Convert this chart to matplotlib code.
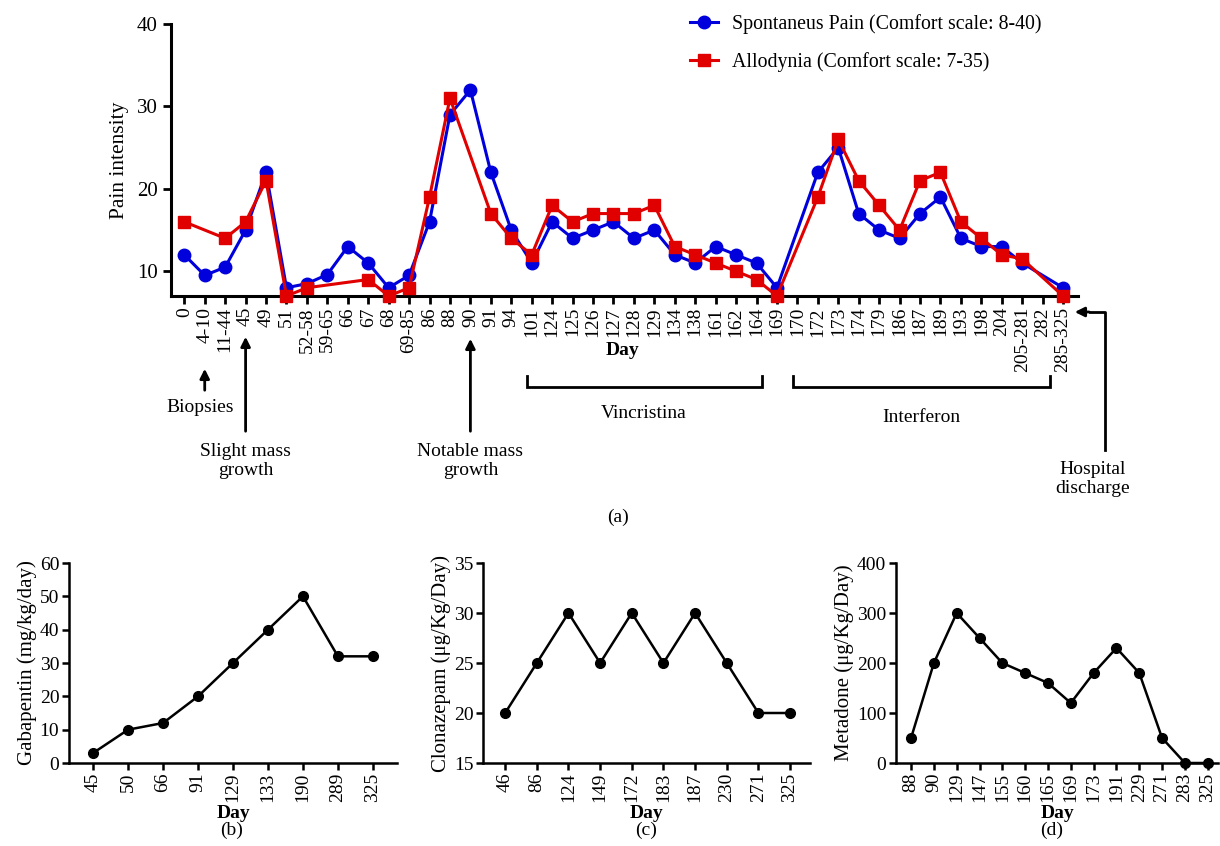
import matplotlib.pyplot as plt
import matplotlib.transforms as mtransforms
import numpy as np

plt.rcParams['font.family'] = ['Liberation Serif', 'DejaVu Serif']

W, H = 1220, 846
nan = np.nan

# ---- panel (a) data ----
days = ['0', '4-10', '11-44', '45', '49', '51', '52-58', '59-65', '66', '67', '68',
        '69-85', '86', '88', '90', '91', '94', '101', '124', '125', '126', '127',
        '128', '129', '134', '138', '161', '162', '164', '169', '170', '172', '173',
        '174', '179', '186', '187', '189', '193', '198', '204', '205-281', '282',
        '285-325']
spont = [12, 9.5, 10.5, 15, 22, 8, 8.5, 9.6, 13, 11, 8,
         9.5, 16, 29, 32, 22, 15, 11, 16, 14, 15, 16,
         14, 15, 12, 11, 13, 12, 11, 8, nan, 22, 25,
         17, 15, 14, 17, 19, 14, 13, 13, 11, nan,
         8]
allod = [16, nan, 14, 16, 21, 7, 8, nan, nan, 9, 7,
         8, 19, 31, nan, 17, 14, 12, 18, 16, 17, 17,
         17, 18, 13, 12, 11, 10, 9, 7, nan, 19, 26,
         21, 18, 15, 21, 22, 16, 14, 12, 11.5, nan,
         7]

# ---- panels (b)-(d) data ----
gaba_days = ['45', '50', '66', '91', '129', '133', '190', '289', '325']
gaba = [3, 10, 12, 20, 30, 40, 50, 32, 32]
clon_days = ['46', '86', '124', '149', '172', '183', '187', '230', '271', '325']
clon = [20, 25, 30, 25, 30, 25, 30, 25, 20, 20]
meta_days = ['88', '90', '129', '147', '155', '160', '165', '169', '173', '191',
             '229', '271', '283', '325']
meta = [50, 200, 300, 250, 200, 180, 160, 120, 180, 230, 180, 50, 0, 0]


def fx(px):
    return px / W


def fy(py):
    return 1 - py / H


fig = plt.figure(figsize=(W / 100, H / 100), dpi=100)

# ---------------- (a) ----------------
ax = fig.add_axes([fx(171), fy(296), fx(1078 - 171), (296 - 24) / H])
x = np.arange(len(days))
s = np.array(spont, dtype=float)
a = np.array(allod, dtype=float)
ms = ~np.isnan(s)
ma = ~np.isnan(a)
ax.plot(x[ms], s[ms], color='#0000dd', lw=2.2, marker='o', ms=9,
        label='Spontaneus Pain (Comfort scale: 8-40)', clip_on=False, zorder=3)
ax.plot(x[ma], a[ma], color='#e00000', lw=2.2, marker='s', ms=9,
        label='Allodynia (Comfort scale: 7-35)', clip_on=False, zorder=4)
ax.set_xlim(-0.65, 43.73)
ax.set_ylim(7, 40)
ax.set_yticks([10, 20, 30, 40])
ax.set_xticks(x)
ax.set_xticklabels(days, rotation=90, fontsize=14)
ax.tick_params(axis='y', labelsize=15, width=2, length=6)
ax.tick_params(axis='x', width=2, length=6, pad=2)
ax.set_ylabel('Pain intensity', fontsize=15.5, labelpad=6)
ax.set_xlabel('Day', fontsize=14, fontweight='bold')
ax.xaxis.set_label_coords(0.498, -0.169)
for sp in ['top', 'right']:
    ax.spines[sp].set_visible(False)
for sp in ['left', 'bottom']:
    ax.spines[sp].set_linewidth(2.2)
ax.legend(loc='upper right', bbox_to_anchor=(fx(1041), fy(14)),
          bbox_transform=fig.transFigure, frameon=False, fontsize=14.3,
          handlelength=1.4, handletextpad=0.7, labelspacing=0.9,
          borderpad=0, borderaxespad=0)

tr = mtransforms.blended_transform_factory(ax.transData, fig.transFigure)
arrow = dict(arrowstyle='-|>', color='black', lw=2, mutation_scale=14)


def up_arrow(i, y0, y1):
    ax.annotate('', xy=(i, fy(y1)), xytext=(i, fy(y0)), xycoords=tr,
                textcoords=tr, arrowprops=arrow, annotation_clip=False)


up_arrow(1, 393, 366)
ax.text(0.8, fy(407), 'Biopsies', transform=tr, ha='center', va='center', fontsize=14)
up_arrow(3, 434, 334)
ax.text(3, fy(461), 'Slight mass\ngrowth', transform=tr, ha='center', va='center',
        fontsize=14, linespacing=1.15)
up_arrow(14, 434, 336)
ax.text(14, fy(461), 'Notable mass\ngrowth', transform=tr, ha='center', va='center',
        fontsize=14, linespacing=1.15)


def bracket(i0, i1, label, ly):
    ax.plot([i0, i0, i1, i1], [fy(376), fy(387), fy(387), fy(376)], transform=tr,
            color='black', lw=2, clip_on=False, solid_joinstyle='miter')
    ax.text((i0 + i1) / 2, fy(ly), label, transform=tr, ha='center', va='center',
            fontsize=14)


bracket(16.75, 28.25, 'Vincristina', 414)
bracket(29.8, 42.35, 'Interferon', 417)

# hospital discharge
ax.plot([fx(1105), fx(1105), fx(1090)], [fy(450), fy(312), fy(312)],
        transform=fig.transFigure, color='black', lw=2, clip_on=False)
ax.annotate('', xy=(fx(1072), fy(312)), xytext=(fx(1092), fy(312)),
            xycoords='figure fraction', textcoords='figure fraction',
            arrowprops=arrow, annotation_clip=False)
fig.text(fx(1093), fy(479), 'Hospital\ndischarge', ha='center', va='center',
         fontsize=14, linespacing=1.15)
fig.text(fx(618), fy(517), '(a)', ha='center', va='center', fontsize=14)


# ---------------- (b)-(d) ----------------
def small_panel(left, right, labels, vals, xl, ylim, yticks, ylabel, tag, tagx):
    axs = fig.add_axes([fx(left), fy(763), fx(right - left), (763 - 563) / H])
    xs = np.arange(len(labels))
    axs.plot(xs, vals, color='black', lw=1.8, marker='o', ms=7, clip_on=False)
    axs.set_xlim(*xl)
    axs.set_ylim(*ylim)
    axs.set_yticks(yticks)
    axs.set_xticks(xs)
    axs.set_xticklabels(labels, rotation=90, fontsize=14)
    axs.tick_params(axis='y', labelsize=14, width=1.8, length=5, pad=2)
    axs.tick_params(axis='x', width=1.8, length=5, pad=2)
    for sp in ['top', 'right']:
        axs.spines[sp].set_visible(False)
    for sp in ['left', 'bottom']:
        axs.spines[sp].set_linewidth(1.8)
    axs.set_ylabel(ylabel, fontsize=15, labelpad=2)
    axs.set_xlabel('Day', fontsize=14, fontweight='bold', labelpad=2)
    fig.text(fx(tagx), fy(830), tag, ha='center', va='center', fontsize=14)
    return axs


small_panel(69, 397, gaba_days, gaba, (-0.69, 8.69), (0, 60),
            [0, 10, 20, 30, 40, 50, 60], 'Gabapentin (mg/kg/day)', '(b)', 232)
small_panel(483, 810, clon_days, clon, (-0.70, 9.63), (15, 35),
            [15, 20, 25, 30, 35], 'Clonazepam (\u03bcg/Kg/Day)', '(c)', 646)
small_panel(896, 1218, meta_days, meta, (-0.66, 13.45), (0, 400),
            [0, 100, 200, 300, 400], 'Metadone (\u03bcg/Kg/Day)', '(d)', 1052)

fig.savefig('out.png', dpi=100)
